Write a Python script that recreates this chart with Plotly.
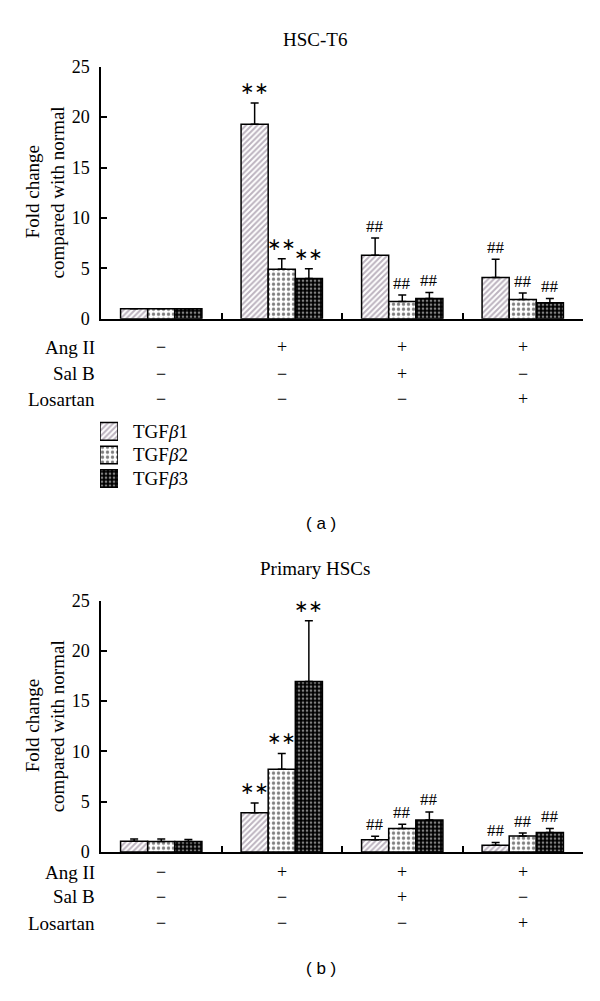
import plotly.graph_objects as go

# ---------------- data ----------------
groups = [0, 1, 2, 3]
series_names = ["TGF<i>β</i>1", "TGF<i>β</i>2", "TGF<i>β</i>3"]

t6_b1 = [1.0, 19.3, 6.3, 4.1]
t6_b2 = [1.0, 4.9, 1.7, 1.9]
t6_b3 = [1.0, 4.0, 2.0, 1.6]
t6_e1 = [0.0, 2.1, 1.7, 1.8]
t6_e2 = [0.0, 1.05, 0.65, 0.65]
t6_e3 = [0.0, 0.95, 0.6, 0.4]

p_b1 = [1.07, 3.9, 1.23, 0.68]
p_b2 = [1.05, 8.24, 2.34, 1.59]
p_b3 = [1.05, 16.95, 3.18, 1.95]
p_e1 = [0.23, 0.97, 0.33, 0.26]
p_e2 = [0.25, 1.56, 0.42, 0.29]
p_e3 = [0.2, 6.05, 0.81, 0.39]

t6_sig = ["", "∗∗", "##", "##"]
p_sig = ["", "∗∗", "##", "##"]

row_labels = ["Ang II", "Sal B", "Losartan"]
ang_ii = ["−", "+", "+", "+"]
sal_b = ["−", "−", "+", "−"]
losartan = ["−", "−", "−", "+"]

y_ticks = [0, 5, 10, 15, 20, 25]

# ---------------- styling ----------------
FONT = "Liberation Serif"
FS = 19
PAGE_M = 8                      # default page body margin
W, H = 600 - 2 * PAGE_M, 1001 - 2 * PAGE_M
def px(x):
    return (x - PAGE_M) / W
def py(y):
    return 1 - (y - PAGE_M) / H

patterns = [
    dict(shape="/", fgcolor="#7a6880", bgcolor="white", size=4, solidity=0.5),
    dict(shape=".", fgcolor="black", bgcolor="white", size=5, solidity=0.35),
    dict(shape=".", fgcolor="white", bgcolor="black", size=4, solidity=0.35),
]

BARGAP = 0.325
bw = (1 - BARGAP) / 3
offsets = [-bw, 0, bw]

fig = go.Figure()

def add_panel(vals, errs, sig, xa, ya):
    for i, (v, e) in enumerate(zip(vals, errs)):
        fig.add_trace(go.Bar(
            x=groups, y=v, name=series_names[i], xaxis=xa, yaxis=ya,
            showlegend=False,
            marker=dict(color="white", pattern=patterns[i],
                        line=dict(color="black", width=1.5)),
            error_y=dict(type="data", array=e, arrayminus=[0]*len(e),
                         symmetric=False, color="black", thickness=1.5, width=4),
        ))
        for g, s in enumerate(sig):
            if not s:
                continue
            star = s.startswith("∗")
            fig.add_annotation(
                x=groups[g] + offsets[i], y=v[g] + e[g],
                xref=xa, yref=ya, text=s, showarrow=False,
                xanchor="center", yanchor="middle", yshift=15 if star else 12,
                font=dict(family="DejaVu Sans" if star else FONT,
                          size=17, color="black"),
            )

add_panel([t6_b1, t6_b2, t6_b3], [t6_e1, t6_e2, t6_e3], t6_sig, "x", "y")
add_panel([p_b1, p_b2, p_b3], [p_e1, p_e2, p_e3], p_sig, "x2", "y2")

# legend swatches (pattern keys) on a hidden axis pair
for i, name in enumerate(series_names):
    fig.add_trace(go.Bar(
        x=[1], y=[i], orientation="h", width=0.75, xaxis="x3", yaxis="y3",
        showlegend=False, hoverinfo="skip", name=name,
        marker=dict(color="white", pattern=patterns[i],
                    line=dict(color="black", width=1.5)),
    ))

xdom = [px(101), px(583)]
axis_x = dict(range=[-0.5, 3.5], showline=True, linecolor="black", linewidth=1.5,
              tickvals=[0.5, 1.5, 2.5, 3.5], ticks="inside", ticklen=6, tickwidth=1.5,
              tickcolor="black", showticklabels=False, showgrid=False, zeroline=False,
              fixedrange=True)
axis_y = dict(range=[0, 25], tickvals=y_ticks, showline=True, linecolor="black",
              linewidth=1.5, ticks="inside", ticklen=6, tickwidth=1.5, tickcolor="black",
              showgrid=False, zeroline=False, ticklabelstandoff=6,
              tickfont=dict(family=FONT, size=18, color="black"))
hidden = dict(visible=False, showgrid=False, zeroline=False, fixedrange=True)

fig.update_layout(
    width=W, height=H, autosize=False,
    margin=dict(l=0, r=0, t=0, b=0),
    paper_bgcolor="white", plot_bgcolor="white",
    barmode="group", bargap=BARGAP, bargroupgap=0,
    font=dict(family=FONT, size=FS, color="black"),
    xaxis=dict(domain=xdom, anchor="y", **axis_x),
    yaxis=dict(domain=[py(315), py(57.7)], anchor="x", **axis_y),
    xaxis2=dict(domain=xdom, anchor="y2", **axis_x),
    yaxis2=dict(domain=[py(859.3), py(602.7)], anchor="x2", **axis_y),
    xaxis3=dict(domain=[px(100), px(118)], anchor="y3", range=[0, 1], **hidden),
    yaxis3=dict(domain=[py(490), py(418)], anchor="x3", range=[2.5, -0.5], **hidden),
    showlegend=False,
)

def note(x, y, text, xref="paper", xanchor="center", size=FS, family=FONT, angle=0):
    fig.add_annotation(x=x, y=y, xref=xref, yref="paper", text=text, showarrow=False,
                       xanchor=xanchor, yanchor="middle", textangle=angle,
                       font=dict(family=family, size=size, color="black"))

# legend labels
for i, name in enumerate(series_names):
    fig.add_annotation(x=px(131), y=i, xref="paper", yref="y3", text=name,
                       showarrow=False, xanchor="left", yanchor="middle",
                       font=dict(family=FONT, size=FS, color="black"))

# titles
for txt, yy in [("HSC-T6", 30), ("Primary HSCs", 570)]:
    note(px(315), py(yy), txt)

# y-axis titles
for yc in [186, 731]:
    note(px(32), py(yc), "Fold change", angle=-90)
    note(px(57), py(yc), "compared with normal", angle=-90)

# treatment tables
rows = [ang_ii, sal_b, losartan]
for xa, row_y in [("x", [344, 371, 397]), ("x2", [880, 905, 932])]:
    for lab, marks, yy in zip(row_labels, rows, row_y):
        note(px(97), py(yy), lab, xanchor="right")
        for g, m in zip(groups, marks):
            note(g, py(yy), m, xref=xa, size=18)

# panel labels
for txt, yy in [("( a )", 524), ("( b )", 978)]:
    note(px(321), py(yy), txt, size=17, family="Liberation Sans")

fig.write_html("out.html")
